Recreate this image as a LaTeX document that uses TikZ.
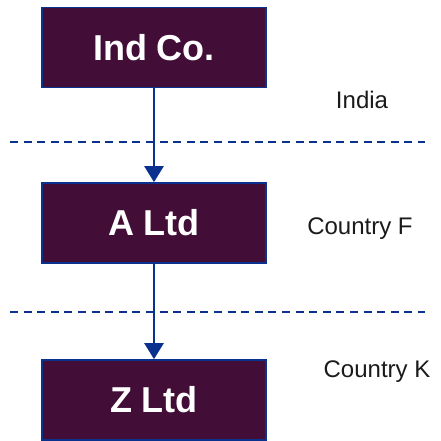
\documentclass[tikz,border=0pt]{standalone}
\usepackage{fontspec}
\setmainfont{Liberation Sans}
\newfontfamily\entityfont{Liberation Sans Bold}
\usetikzlibrary{arrows.meta}
\definecolor{boxfill}{HTML}{420D37}
\definecolor{navy}{HTML}{0B318F}
\definecolor{labelgray}{HTML}{1A1A1A}
\begin{document}
\begin{tikzpicture}[
  entity/.style={draw=navy,line width=1.6pt,fill=boxfill,text=white,
    minimum width=224pt,minimum height=80pt,inner sep=0pt,
    font=\entityfont\fontsize{36}{40}\selectfont},
  region/.style={text=labelgray,inner sep=0pt,font=\fontsize{24}{28}\selectfont},
  border/.style={navy,line width=1.4pt,dash pattern=on 8pt off 5.6pt},
  link/.style={draw=navy,line width=2.4pt,
    -{Triangle[width=19pt,length=16pt]}}]
  \useasboundingbox (0pt,0pt) rectangle (441pt,-440pt);
  % country borders
  \draw[border] (10pt,-142pt) -- (425pt,-142pt);
  \draw[border] (10pt,-312pt) -- (425pt,-312pt);
  % companies
  \node[entity] (ind) at (154pt,-47.5pt) {Ind Co.};
  \node[entity] (a) at (154pt,-223pt) {A Ltd};
  \node[entity] (z) at (154pt,-400pt) {Z Ltd};
  % jurisdictions
  \node[region] (india) at (362pt,-100pt) {India};
  \node[region] (cf) at (360pt,-229pt) {Country F};
  \node[region] (ck) at (377pt,-372pt) {Country K};
  % ownership chain
  \draw[link] (ind.south) -- (a.north);
  \draw[link] (a.south) -- (z.north);
\end{tikzpicture}
\end{document}
